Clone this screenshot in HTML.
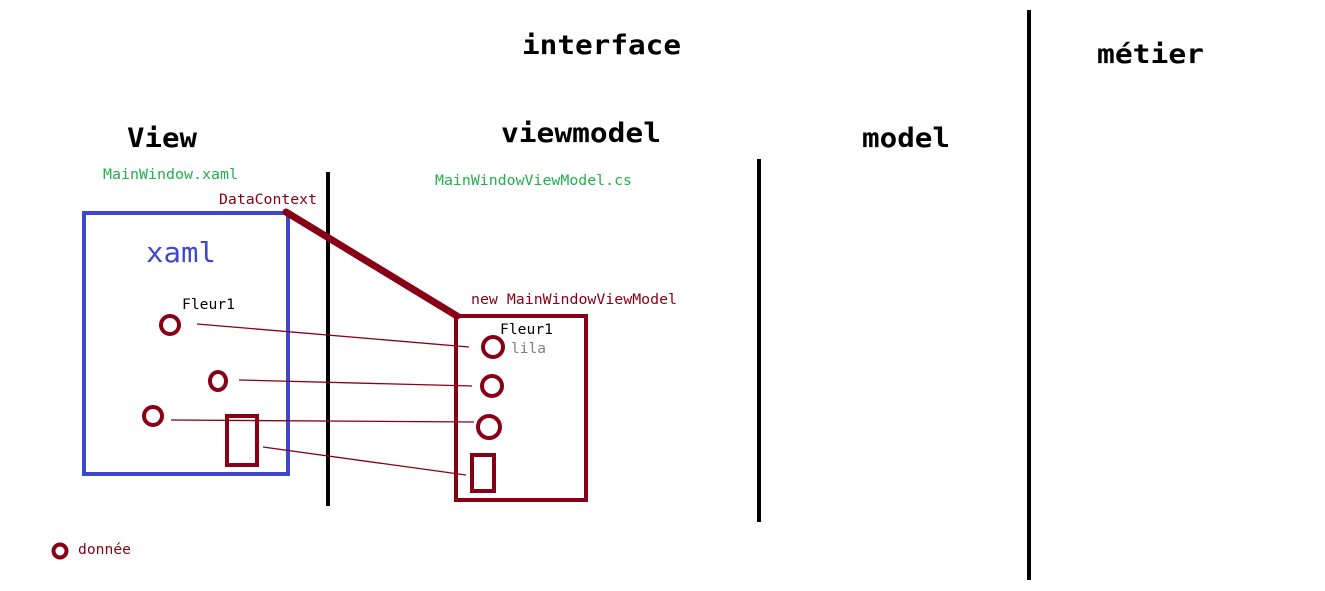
<!DOCTYPE html>
<html><head><meta charset="utf-8"><style>
html,body{margin:0;padding:0;background:#fff;}
svg{display:block;}
text{font-family:"DejaVu Sans Mono","Liberation Mono",monospace;}
.h{font-weight:bold;}
</style></head><body>
<svg width="1325" height="591" viewBox="0 0 1325 591" xmlns="http://www.w3.org/2000/svg">
<rect width="1325" height="591" fill="#fff"/>
<text class="h" x="522" y="54" font-size="27" fill="#000" textLength="159" lengthAdjust="spacingAndGlyphs">interface</text>
<text class="h" x="1097" y="63" font-size="27" fill="#000" textLength="107" lengthAdjust="spacingAndGlyphs">métier</text>
<text class="h" x="127" y="147" font-size="27" fill="#000" textLength="70" lengthAdjust="spacingAndGlyphs">View</text>
<text class="h" x="501" y="142" font-size="27" fill="#000" textLength="160" lengthAdjust="spacingAndGlyphs">viewmodel</text>
<text class="h" x="862" y="147" font-size="27" fill="#000" textLength="88" lengthAdjust="spacingAndGlyphs">model</text>
<line x1="328" y1="172" x2="328" y2="506" stroke="#000" stroke-width="4"/>
<line x1="759" y1="159" x2="759" y2="522" stroke="#000" stroke-width="4"/>
<line x1="1029" y1="10" x2="1029" y2="580" stroke="#000" stroke-width="4"/>
<text x="103" y="179" font-size="14" fill="#22b04c" textLength="135" lengthAdjust="spacingAndGlyphs">MainWindow.xaml</text>
<text x="435" y="185" font-size="14" fill="#22b04c" textLength="197" lengthAdjust="spacingAndGlyphs">MainWindowViewModel.cs</text>
<text x="219" y="204" font-size="14" fill="#880015" textLength="98" lengthAdjust="spacingAndGlyphs">DataContext</text>
<text x="471" y="304" font-size="14" fill="#880015" textLength="206" lengthAdjust="spacingAndGlyphs">new MainWindowViewModel</text>
<rect x="84" y="213" width="204" height="261" fill="none" stroke="#3f48cc" stroke-width="4"/>
<text x="146" y="262" font-size="28" fill="#3f48cc" textLength="70" lengthAdjust="spacingAndGlyphs">xaml</text>
<text x="182" y="309" font-size="14" fill="#000" textLength="53" lengthAdjust="spacingAndGlyphs">Fleur1</text>
<line x1="286" y1="212" x2="457" y2="316" stroke="#880015" stroke-width="7" stroke-linecap="round"/>
<rect x="456" y="316" width="130" height="184" fill="none" stroke="#880015" stroke-width="4"/>
<text x="500" y="334" font-size="14" fill="#000" textLength="53" lengthAdjust="spacingAndGlyphs">Fleur1</text>
<text x="511" y="353" font-size="14" fill="#7f7f7f" textLength="35" lengthAdjust="spacingAndGlyphs">lila</text>
<g fill="none" stroke="#880015" stroke-width="4">
<circle cx="170" cy="325" r="9"/>
<ellipse cx="218" cy="381" rx="8" ry="9"/>
<circle cx="153" cy="416" r="9"/>
<rect x="227" y="416" width="30" height="49"/>
<circle cx="493" cy="347" r="10"/>
<circle cx="492" cy="386" r="10"/>
<circle cx="489" cy="427" r="11"/>
<rect x="472" y="455" width="22" height="36"/>
<circle cx="60" cy="551" r="6.5"/>
</g>
<g stroke="#880015" stroke-width="1.3">
<line x1="197" y1="324" x2="469" y2="347"/>
<line x1="239" y1="380" x2="472" y2="386"/>
<line x1="171" y1="420" x2="474" y2="422"/>
<line x1="263" y1="447" x2="466" y2="475"/>
</g>
<text x="78" y="554" font-size="14" fill="#880015" textLength="53" lengthAdjust="spacingAndGlyphs">donnée</text>
</svg>
</body></html>
